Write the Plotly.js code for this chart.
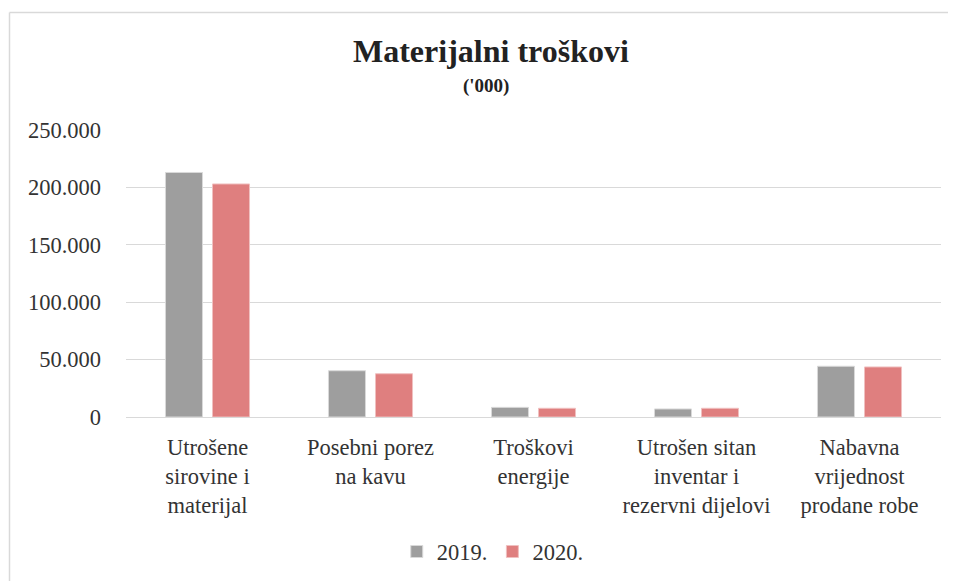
<!DOCTYPE html>
<html>
<head>
<meta charset="utf-8">
<script src="https://cdn.plot.ly/plotly-3.0.1.min.js"></script>
<style>html,body{margin:0;padding:0;background:#fff;}#chart{width:957px;height:581px;}</style>
</head>
<body>
<div id="chart"></div>
<script>
const categories = [
  "Utrošene<br>sirovine i<br>materijal",
  "Posebni porez<br>na kavu",
  "Troškovi<br>energije",
  "Utrošen sitan<br>inventar i<br>rezervni dijelovi",
  "Nabavna<br>vrijednost<br>prodane robe"
];
const values2019 = [213000, 40300, 8400, 7000, 44200];
const values2020 = [203000, 37700, 7600, 7600, 43600];
const seriesNames = ["2019.", "2020."];
const titleText = "<b>Materijalni troškovi</b>";
const subtitleText = "<b>('000)</b>";

const font = "Liberation Serif";
const tickFont = {family: font, size: 22.5, color: "#333"};
const traces = [
  {type: "bar", name: seriesNames[0], x: categories, y: values2019,
   marker: {color: "#9e9e9e", line: {color: "#d9d9d9", width: 1}}},
  {type: "bar", name: seriesNames[1], x: categories, y: values2020,
   marker: {color: "#df7f7f", line: {color: "#f0c0c0", width: 1}}}
];
const layout = {
  width: 957, height: 581,
  margin: {l: 126, r: 16, t: 130, b: 164, autoexpand: false},
  paper_bgcolor: "#fff", plot_bgcolor: "#fff",
  font: {family: font, size: 22, color: "#333"},
  separators: ",.",
  barmode: "group", bargap: 0.423, bargroupgap: 0.213,
  showlegend: true,
  legend: {orientation: "h", x: 0.45, xanchor: "center", y: -0.47, yanchor: "middle",
           font: tickFont, traceorder: "normal"},
  xaxis: {showgrid: false, showline: false, ticks: "", tickangle: 0, fixedrange: true,
          tickfont: tickFont, ticklabelstandoff: 14, automargin: false},
  yaxis: {range: [0, 250000], dtick: 50000, tickformat: ",d", gridcolor: "#d9d9d9",
          zeroline: true, zerolinecolor: "#d9d9d9", ticklabelstandoff: 24, fixedrange: true,
          tickfont: tickFont, automargin: false},
  annotations: [
    {text: titleText, xref: "paper", yref: "paper", x: 0.448, y: (417 - 51) / 287,
     xanchor: "center", yanchor: "middle", showarrow: false,
     font: {family: font, size: 32, color: "#222"}},
    {text: subtitleText, xref: "paper", yref: "paper", x: 0.4417, y: (417 - 86) / 287,
     xanchor: "center", yanchor: "middle", showarrow: false,
     font: {family: font, size: 19, color: "#222"}}
  ],
  shapes: [
    {type: "line", xref: "paper", yref: "paper", x0: (9.5 - 126) / 815, x1: (948 - 126) / 815,
     y0: (417 - 12.5) / 287, y1: (417 - 12.5) / 287, line: {color: "#d9d9d9", width: 1.5}},
    {type: "line", xref: "paper", yref: "paper", x0: (9.5 - 126) / 815, x1: (9.5 - 126) / 815,
     y0: (417 - 12.5) / 287, y1: (417 - 600) / 287, line: {color: "#d9d9d9", width: 1.5}}
  ]
};
Plotly.newPlot("chart", traces, layout, {displayModeBar: false, staticPlot: true});
</script>
</body>
</html>
